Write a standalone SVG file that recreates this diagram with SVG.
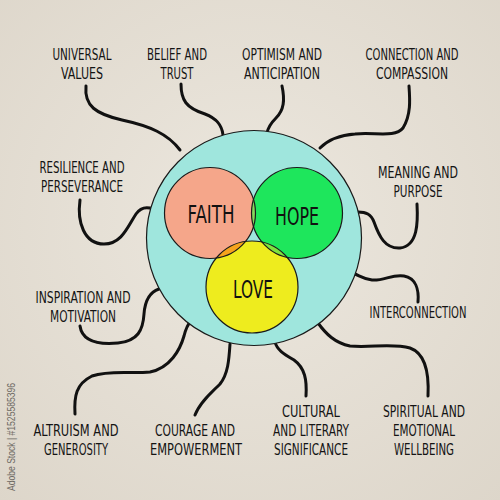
<svg xmlns="http://www.w3.org/2000/svg" width="500" height="500" viewBox="0 0 500 500">
<style>
.lbl{font-family:"DejaVu Sans Condensed","DejaVu Sans",sans-serif;font-size:15px;fill:#141414;text-anchor:middle;lengthAdjust:spacingAndGlyphs}
.big{font-family:"DejaVu Sans Condensed","DejaVu Sans",sans-serif;font-size:25px;fill:#111;text-anchor:middle}
.con{fill:none;stroke:#111;stroke-width:3;stroke-linecap:round;stroke-linejoin:round}
.ring{stroke:#1a1a1a;stroke-width:1.2}
</style>
<defs>
<clipPath id="cF"><circle cx="210" cy="213" r="45.5"/></clipPath>
<clipPath id="cH"><circle cx="297" cy="213" r="45.5"/></clipPath>
<radialGradient id="paper" cx="50%" cy="45%" r="75%">
<stop offset="0" stop-color="#ece7de"/><stop offset="1" stop-color="#ddd6ca"/>
</radialGradient>
</defs>
<rect width="500" height="500" fill="url(#paper)"/>
<g id="connectors">
<path class="con" d="M86,86 C84,106 96,114 122,120 C150,126 168,134 180,150"/>
<path class="con" d="M181,84 C181,100 186,108 205,114 C218,119 222,126 223,135"/>
<path class="con" d="M282,86 C285,100 284,110 276,118 C270,124 268,128 267,133"/>
<path class="con" d="M409,86 C410,100 411,115 403,128 C395,138 375,132 355,134 C340,135 328,140 320,148"/>
<path class="con" d="M80,200 C77,222 84,244 104,244 C122,244 128,226 136,214 C140,208 145,207 150,208"/>
<path class="con" d="M417,204 C418,222 418,246 400,248 C385,249 379,236 374,222 C371,214 366,212 358,212"/>
<path class="con" d="M80,326 C82,340 96,345 118,343 C138,341 143,330 144,314 C145,300 150,292 159,289"/>
<path class="con" d="M418,302 C419,290 416,278 404,276 C392,274 384,281 372,280 C364,279 360,276 355,274"/>
<path class="con" d="M75,414 C74,396 76,384 92,376 C110,370 130,374 150,372 C170,368 180,350 184,336 C186,328 188,324 191,321"/>
<path class="con" d="M195,415 C200,402 212,392 220,384 C228,374 229,360 230,344"/>
<path class="con" d="M306,396 C307,380 305,368 294,360 C284,354 277,350 275,342"/>
<path class="con" d="M428,396 C429,376 427,354 410,348 C392,343 370,348 350,346 C335,343 326,334 318,323"/>
</g>
<g id="main-circle"><circle class="ring" cx="254" cy="238" r="107.5" fill="#9fe6dd"/></g>
<g id="faith"><circle cx="210" cy="213" r="45.5" fill="#f5a68a"/></g>
<g id="hope"><circle cx="297" cy="213" r="45.5" fill="#1ee65c"/></g>
<g id="love"><circle cx="252" cy="287" r="46" fill="#eeec1e"/></g>
<g id="overlaps">
<circle cx="297" cy="213" r="45.5" fill="#84d85c" clip-path="url(#cF)"/>
<circle cx="252" cy="287" r="46" fill="#f5a31c" clip-path="url(#cF)"/>
<circle cx="252" cy="287" r="46" fill="#7fe23e" clip-path="url(#cH)"/>
<circle cx="210" cy="213" r="45.5" fill="none" class="ring"/>
<circle cx="297" cy="213" r="45.5" fill="none" class="ring"/>
<circle cx="252" cy="287" r="46" fill="none" class="ring"/>
</g>
<g id="center-labels">
<text class="big" x="211" y="223" textLength="47" lengthAdjust="spacingAndGlyphs">FAITH</text>
<text class="big" x="297" y="225" textLength="44" lengthAdjust="spacingAndGlyphs">HOPE</text>
<text class="big" x="253" y="298" textLength="40" lengthAdjust="spacingAndGlyphs">LOVE</text>
</g>
<g id="n-universal"><text class="lbl" x="82" y="60" textLength="59" lengthAdjust="spacingAndGlyphs">UNIVERSAL</text><text class="lbl" x="82" y="79" textLength="42" lengthAdjust="spacingAndGlyphs">VALUES</text></g>
<g id="n-belief"><text class="lbl" x="177" y="60" textLength="60" lengthAdjust="spacingAndGlyphs">BELIEF AND</text><text class="lbl" x="177" y="79" textLength="33" lengthAdjust="spacingAndGlyphs">TRUST</text></g>
<g id="n-optimism"><text class="lbl" x="282" y="60" textLength="80" lengthAdjust="spacingAndGlyphs">OPTIMISM AND</text><text class="lbl" x="282" y="79" textLength="76" lengthAdjust="spacingAndGlyphs">ANTICIPATION</text></g>
<g id="n-connection"><text class="lbl" x="412" y="60" textLength="93" lengthAdjust="spacingAndGlyphs">CONNECTION AND</text><text class="lbl" x="412" y="79" textLength="72" lengthAdjust="spacingAndGlyphs">COMPASSION</text></g>
<g id="n-resilience"><text class="lbl" x="82" y="173" textLength="85" lengthAdjust="spacingAndGlyphs">RESILIENCE AND</text><text class="lbl" x="82" y="192" textLength="82" lengthAdjust="spacingAndGlyphs">PERSEVERANCE</text></g>
<g id="n-meaning"><text class="lbl" x="418" y="178" textLength="80" lengthAdjust="spacingAndGlyphs">MEANING AND</text><text class="lbl" x="418" y="197" textLength="49" lengthAdjust="spacingAndGlyphs">PURPOSE</text></g>
<g id="n-inspiration"><text class="lbl" x="83" y="303" textLength="95" lengthAdjust="spacingAndGlyphs">INSPIRATION AND</text><text class="lbl" x="83" y="322" textLength="66" lengthAdjust="spacingAndGlyphs">MOTIVATION</text></g>
<g id="n-interconnection"><text class="lbl" x="418" y="318" textLength="97" lengthAdjust="spacingAndGlyphs">INTERCONNECTION</text></g>
<g id="n-altruism"><text class="lbl" x="76" y="436" textLength="85" lengthAdjust="spacingAndGlyphs">ALTRUISM AND</text><text class="lbl" x="76" y="455" textLength="64" lengthAdjust="spacingAndGlyphs">GENEROSITY</text></g>
<g id="n-courage"><text class="lbl" x="195" y="436" textLength="80" lengthAdjust="spacingAndGlyphs">COURAGE AND</text><text class="lbl" x="196" y="455" textLength="92" lengthAdjust="spacingAndGlyphs">EMPOWERMENT</text></g>
<g id="n-cultural"><text class="lbl" x="311" y="417" textLength="58" lengthAdjust="spacingAndGlyphs">CULTURAL</text><text class="lbl" x="311" y="436" textLength="76" lengthAdjust="spacingAndGlyphs">AND LITERARY</text><text class="lbl" x="311" y="455" textLength="74" lengthAdjust="spacingAndGlyphs">SIGNIFICANCE</text></g>
<g id="n-spiritual"><text class="lbl" x="424" y="417" textLength="82" lengthAdjust="spacingAndGlyphs">SPIRITUAL AND</text><text class="lbl" x="424" y="436" textLength="62" lengthAdjust="spacingAndGlyphs">EMOTIONAL</text><text class="lbl" x="424" y="455" textLength="60" lengthAdjust="spacingAndGlyphs">WELLBEING</text></g>
<text x="0" y="0" transform="translate(15,437) rotate(-90)" font-family="Liberation Sans,sans-serif" font-size="10" fill="#6e6a64" text-anchor="middle" textLength="108" lengthAdjust="spacingAndGlyphs">Adobe Stock | #1525585396</text>
</svg>
